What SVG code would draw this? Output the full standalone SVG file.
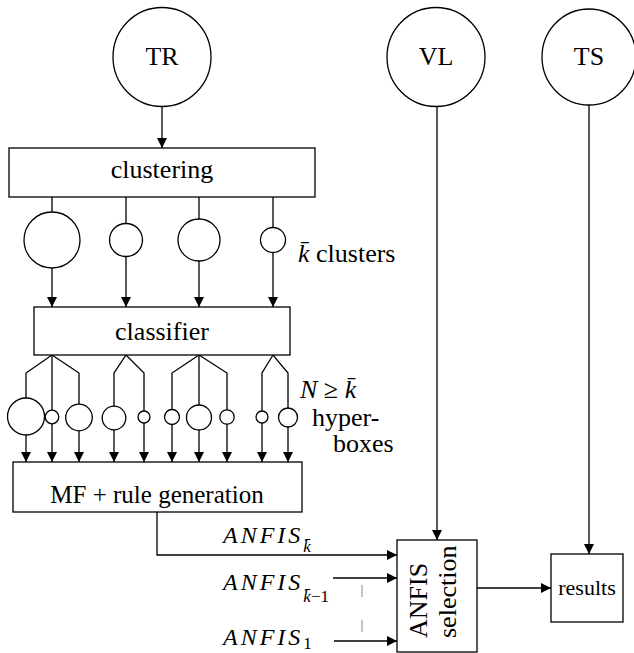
<svg xmlns="http://www.w3.org/2000/svg" width="634" height="653" viewBox="0 0 634 653">
<style>
.shape { fill: #fff; stroke: #000; stroke-width: 1.3; }
.conn line, .conn polyline { stroke: #000; stroke-width: 1.3; fill: none; }
.arr { marker-end: url(#ah); }
.dash { stroke: #b0b0b0 !important; stroke-width: 1.5 !important; }
</style>
<defs>
<marker id="ah" markerUnits="userSpaceOnUse" markerWidth="11" markerHeight="11" refX="10" refY="5" orient="auto">
<path d="M0,0 L10,5 L0,10 Z" fill="#000"/>
</marker>
</defs>
<rect width="634" height="653" fill="#fff"/>

<g id="connectors" class="conn">
<line class="arr" x1="162" y1="106" x2="162" y2="148"/>
<line x1="52" y1="197" x2="52" y2="212"/>
<line x1="126" y1="197" x2="126" y2="224"/>
<line x1="199" y1="197" x2="199" y2="219"/>
<line x1="273" y1="197" x2="273" y2="228"/>
<line class="arr" x1="52" y1="268" x2="52" y2="307"/>
<line class="arr" x1="126" y1="256" x2="126" y2="307"/>
<line class="arr" x1="199" y1="261" x2="199" y2="307"/>
<line class="arr" x1="273" y1="252" x2="273" y2="307"/>
<polyline points="26,398 26,373 52,355 79,373 79,404"/>
<line x1="52" y1="355" x2="52" y2="410"/>
<polyline points="114,406 114,373 126,355 144,373 144,411"/>
<polyline points="172,410 172,373 199,355 227,373 227,410"/>
<line x1="199" y1="355" x2="199" y2="405"/>
<polyline points="262,411 262,373 273,355 288,373 288,408"/>
<line class="arr" x1="26" y1="435" x2="26" y2="462"/>
<line class="arr" x1="52" y1="424" x2="52" y2="462"/>
<line class="arr" x1="79" y1="431" x2="79" y2="462"/>
<line class="arr" x1="114" y1="430" x2="114" y2="462"/>
<line class="arr" x1="144" y1="423" x2="144" y2="462"/>
<line class="arr" x1="172" y1="424" x2="172" y2="462"/>
<line class="arr" x1="199" y1="430" x2="199" y2="462"/>
<line class="arr" x1="227" y1="424" x2="227" y2="462"/>
<line class="arr" x1="262" y1="423" x2="262" y2="462"/>
<line class="arr" x1="288" y1="427" x2="288" y2="462"/>
<polyline class="arr" points="157,512 157,555 397,555"/>
<line class="arr" x1="333" y1="578" x2="397" y2="578"/>
<line class="arr" x1="334" y1="641" x2="397" y2="641"/>
<line class="dash" x1="362" y1="585" x2="362" y2="597"/>
<line class="dash" x1="362" y1="620" x2="362" y2="632"/>
<line class="arr" x1="437" y1="106" x2="437" y2="540"/>
<line class="arr" x1="589" y1="104" x2="589" y2="554"/>
<line class="arr" x1="477" y1="588" x2="551" y2="588"/>
</g>

<g id="TR">
<ellipse class="shape" cx="162" cy="57" rx="49" ry="49.5"/>
<text x="162" y="65" font-family="Liberation Serif" font-size="26" text-anchor="middle">TR</text>
</g>
<g id="VL">
<ellipse class="shape" cx="436" cy="57" rx="49" ry="49.5"/>
<text x="436" y="65" font-family="Liberation Serif" font-size="26" text-anchor="middle">VL</text>
</g>
<g id="TS">
<ellipse class="shape" cx="589" cy="57" rx="47" ry="48"/>
<text x="589" y="65" font-family="Liberation Serif" font-size="26" text-anchor="middle">TS</text>
</g>

<g id="clustering">
<rect class="shape" x="9" y="148" width="306" height="49"/>
<text x="162" y="178" font-family="Liberation Serif" font-size="26" text-anchor="middle">clustering</text>
</g>

<g id="clusters">
<circle class="shape" cx="52" cy="240" r="28"/>
<circle class="shape" cx="126" cy="240" r="16.5"/>
<circle class="shape" cx="199" cy="240" r="21"/>
<circle class="shape" cx="273" cy="240" r="12.5"/>
<text x="298" y="262" font-family="Liberation Serif" font-size="26"><tspan font-style="italic">k&#x304;</tspan> clusters</text>
</g>

<g id="classifier">
<rect class="shape" x="34" y="307" width="256" height="48"/>
<text x="162" y="340" font-family="Liberation Serif" font-size="26" text-anchor="middle">classifier</text>
</g>

<g id="hyperboxes">
<circle class="shape" cx="26" cy="416.5" r="18.5"/>
<circle class="shape" cx="52" cy="417" r="6.8"/>
<circle class="shape" cx="79" cy="417.5" r="13.3"/>
<circle class="shape" cx="114" cy="418" r="11.8"/>
<circle class="shape" cx="144" cy="417" r="6"/>
<circle class="shape" cx="172" cy="417" r="7.5"/>
<circle class="shape" cx="199" cy="417.5" r="12.5"/>
<circle class="shape" cx="227" cy="417" r="7.2"/>
<circle class="shape" cx="262" cy="417" r="6"/>
<circle class="shape" cx="288" cy="417.5" r="9.5"/>
<text x="300" y="398" font-family="Liberation Serif" font-size="26"><tspan font-style="italic">N</tspan> ≥ <tspan font-style="italic">k&#x304;</tspan></text>
<text x="312" y="426" font-family="Liberation Serif" font-size="26">hyper-</text>
<text x="333" y="452" font-family="Liberation Serif" font-size="26">boxes</text>
</g>

<g id="mf">
<rect class="shape" x="13" y="462" width="289" height="50"/>
<text x="157" y="503" font-family="Liberation Serif" font-size="25" text-anchor="middle">MF + rule generation</text>
</g>

<g id="anfis-labels">
<text x="223" y="543" font-family="Liberation Serif" font-size="24" font-style="italic" letter-spacing="3">ANFIS<tspan font-size="17" letter-spacing="0" dy="9">k&#x304;</tspan></text>
<text x="223" y="590" font-family="Liberation Serif" font-size="24" font-style="italic" letter-spacing="3">ANFIS<tspan font-size="17" letter-spacing="0" dy="12">k&#x304;</tspan><tspan font-size="17" letter-spacing="0" font-style="normal">−1</tspan></text>
<text x="223" y="645" font-family="Liberation Serif" font-size="24" font-style="italic" letter-spacing="3">ANFIS<tspan font-size="17" letter-spacing="0" font-style="normal" dy="4">1</tspan></text>
</g>

<g id="anfis-selection">
<rect class="shape" x="397" y="540" width="80" height="112"/>
<text transform="translate(427,638) rotate(-90)" font-family="Liberation Serif" font-size="26">ANFIS</text>
<text transform="translate(456,638) rotate(-90)" font-family="Liberation Serif" font-size="26">selection</text>
</g>

<g id="results">
<rect class="shape" x="551" y="554" width="72" height="68"/>
<text x="587" y="595" font-family="Liberation Serif" font-size="22" text-anchor="middle">results</text>
</g>
</svg>
